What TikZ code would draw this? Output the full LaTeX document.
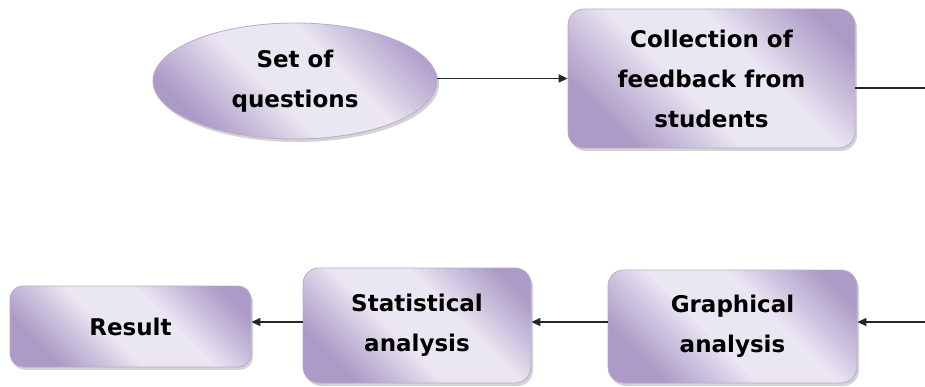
\documentclass[tikz,border=0pt]{standalone}
\usepackage{fontspec}
\setmainfont{DejaVu Sans}
\usetikzlibrary{shapes.geometric,shadows,arrows.meta}
\definecolor{lavdark}{HTML}{AD9BC7}
\definecolor{lavmid}{HTML}{CDC3DE}
\definecolor{lavlight}{HTML}{EAE6F2}
\definecolor{lavedge}{HTML}{B8AACE}
\pgfdeclareverticalshading{lavsh}{100bp}{color(0bp)=(lavdark); color(26bp)=(lavdark); color(36bp)=(lavmid); color(44bp)=(lavlight); color(60bp)=(lavlight); color(68bp)=(lavmid); color(78bp)=(lavdark); color(100bp)=(lavdark)}
\tikzset{
  lav/.style={draw=lavedge, line width=0.8pt,
    shading=lavsh, shading angle=-45,
    drop shadow={shadow xshift=2pt, shadow yshift=-3pt, opacity=0.35, fill=gray},
    align=center, inner sep=0pt, text=black,
    font=\bfseries\fontsize{23}{40}\selectfont},
  stepbox/.style={lav, rectangle, rounded corners=16pt},
  ovalbox/.style={lav, ellipse},
  conn/.style={line width=1.5pt, draw=black!85},
  arr/.style={conn, -{Triangle[length=9pt,width=8pt]}}
}
\begin{document}
\begin{tikzpicture}[x=1pt,y=-1pt]
\useasboundingbox (0,0) rectangle (925,387);
\node[ovalbox, minimum width=284pt, minimum height=116pt] (ell) at (295,81) {Set of\\questions};
\node[stepbox, minimum width=287pt, minimum height=139pt] (coll) at (711.5,78.5) {Collection of\\feedback from\\students};
\node[stepbox, minimum width=249pt, minimum height=113pt] (graph) at (732.5,326.5) {Graphical\\analysis};
\node[stepbox, minimum width=228pt, minimum height=115pt] (stat) at (417,325.5) {Statistical\\analysis};
\node[stepbox, minimum width=241pt, minimum height=81pt, rounded corners=13pt] (res) at (130.5,326.5) {Result};
\coordinate (outr) at (925,88);
\coordinate (inr) at (925,322);
\draw[arr] (ell.east |- coll.west) -- (coll.west);
\draw[conn] (coll.east |- outr) -- (outr);
\draw[arr] (inr) -- (graph.east |- inr);
\draw[arr] (graph.west |- inr) -- (stat.east |- inr);
\draw[arr] (stat.west |- inr) -- (res.east |- inr);
\end{tikzpicture}
\end{document}
